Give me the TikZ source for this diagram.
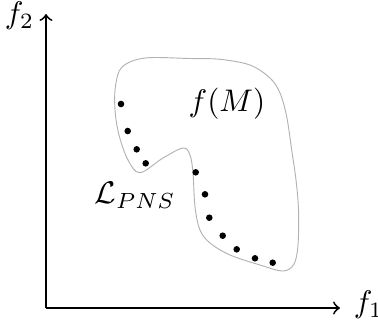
\documentclass[tikz,border=0pt]{standalone}
\begin{document}
\begin{tikzpicture}[x=0.32pt,y=-0.32pt,
  axis/.style={line width=0.6pt,->},
  blob/.style={draw=black!30,line width=0.3pt},
  dot/.style={circle,fill=black,inner sep=0pt,minimum size=2.1pt},
  lbl/.style={inner sep=1pt}]
\useasboundingbox (0,0) rectangle (378,330);
\coordinate (O) at (46,308);
\coordinate (Y) at (46,14);
\coordinate (X) at (340,308);
\draw[axis] (O) -- (Y);
\draw[axis] (O) -- (X);
\node[lbl,anchor=east] (f2) at (38,16) {$f_2$};
\node[lbl,anchor=west] (f1) at (350,305) {$f_1$};
\draw[blob] plot[smooth cycle,tension=0.55] coordinates {
 (145,58) (190,58.5) (220,59.3) (250,65) (270,78) (280,93) (286.7,116.7)
 (291.7,150) (296,180) (298.5,210) (298,245) (294,264) (283,271) (260,265)
 (230,255) (210,243) (200,230) (195,207) (193,173) (190,155) (183,148)
 (163,158) (140,172.7) (128,160) (119,135) (115,110) (115.5,86) (122,67)};
\foreach \p [count=\i] in {(121,104),(127.7,131),(136.7,149.3),(145.7,163.3),(195.7,172.3),(205,194.3),(209.3,217.7),(222.7,235.7),(236.7,249.3),(255,258.3),(272.7,262.7)}
  \node[dot] (d\i) at \p {};
\node[lbl] (fM) at (227,104) {$f(M)$};
\node[lbl] (L) at (135,195) {$\mathcal{L}_{PNS}$};
\end{tikzpicture}
\end{document}
